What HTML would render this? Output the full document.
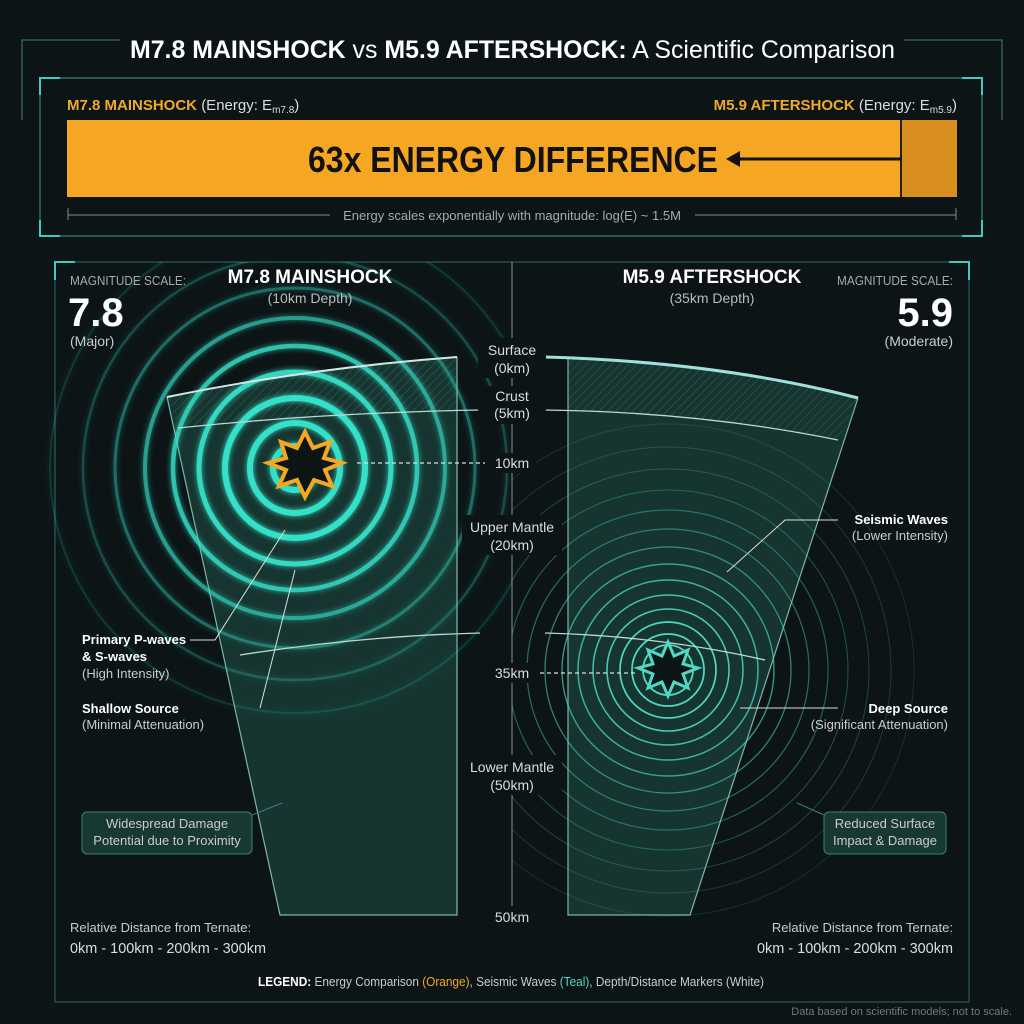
<!DOCTYPE html>
<html><head><meta charset="utf-8"><style>
body{margin:0;background:#0c1416;}
svg{display:block}
text{font-family:"Liberation Sans Narrow","Liberation Sans",sans-serif;}
</style></head><body>
<svg width="1024" height="1024" viewBox="0 0 1024 1024" xmlns="http://www.w3.org/2000/svg">
<defs>
<pattern id="hatch" width="6" height="6" patternUnits="userSpaceOnUse" patternTransform="rotate(45)"><line x1="0" y1="0" x2="0" y2="6" stroke="#5a8a84" stroke-width="1" opacity="0.5"/></pattern>
<filter id="glow"><feGaussianBlur stdDeviation="3" result="b"/><feMerge><feMergeNode in="b"/><feMergeNode in="SourceGraphic"/></feMerge></filter>
<clipPath id="lc"><rect x="40" y="262" width="472" height="738"/></clipPath>
<clipPath id="rc"><rect x="512" y="262" width="472" height="738"/></clipPath>
</defs>
<rect width="1024" height="1024" fill="#0c1416"/>
<g stroke="#2d5c5c" fill="none" stroke-width="1.5">
<path d="M22 120 V40 H120 M904 40 H1002 V120"/>
<rect x="40" y="78" width="942" height="158" stroke="#2f6e6e"/>
<rect x="55" y="262" width="914" height="740" stroke="#254c4c"/>
</g>
<g stroke="#3fc9c0" stroke-width="2" fill="none">
<path d="M40 95 V78 H60 M962 78 H982 V95 M40 220 V236 H60 M962 236 H982 V220"/>
<path d="M55 280 V262 H75 M949 262 H969 V280"/>
</g>
<text x="130" y="58" textLength="765" lengthAdjust="spacingAndGlyphs" fill="#fff" font-size="25"><tspan font-weight="bold">M7.8 MAINSHOCK</tspan> vs <tspan font-weight="bold">M5.9 AFTERSHOCK:</tspan> A Scientific Comparison</text>
<text x="67" y="110" fill="#f0a92a" font-size="15" font-weight="bold">M7.8 MAINSHOCK <tspan fill="#ddd" font-weight="normal">(Energy: E</tspan><tspan fill="#ddd" font-weight="normal" font-size="10" dy="3">m7.8</tspan><tspan fill="#ddd" font-weight="normal" dy="-3">)</tspan></text>
<text x="957" y="110" text-anchor="end" fill="#f0a92a" font-size="15" font-weight="bold">M5.9 AFTERSHOCK <tspan fill="#ddd" font-weight="normal">(Energy: E</tspan><tspan fill="#ddd" font-weight="normal" font-size="10" dy="3">m5.9</tspan><tspan fill="#ddd" font-weight="normal" dy="-3">)</tspan></text>
<rect x="67" y="120" width="890" height="77" fill="#f5a623"/>
<rect x="902" y="120" width="55" height="77" fill="#d98f1f"/>
<line x1="901" y1="120" x2="901" y2="197" stroke="#222" stroke-width="2"/>
<text x="308" y="172" textLength="410" lengthAdjust="spacingAndGlyphs" fill="#111" font-size="36" font-weight="bold">63x ENERGY DIFFERENCE</text>
<line x1="738" y1="159" x2="901" y2="159" stroke="#111" stroke-width="3"/>
<path d="M726 159 L740 151 L740 167 Z" fill="#111"/>
<g stroke="#888" stroke-width="1"><line x1="68" y1="215" x2="330" y2="215"/><line x1="695" y1="215" x2="956" y2="215"/><line x1="68" y1="208" x2="68" y2="220"/><line x1="956" y1="208" x2="956" y2="220"/></g>
<text x="512" y="220" text-anchor="middle" fill="#aaa" font-size="13">Energy scales exponentially with magnitude: log(E) ~ 1.5M</text>

<line x1="512" y1="262" x2="512" y2="915" stroke="#778" stroke-width="1.2"/>

<path d="M167 397 Q310 368 457 357 L457 915 L280 915 Z" fill="#173833" opacity="0.9"/>
<path d="M167 397 Q310 368 457 357 L457 410 Q320 413 178 428 Z" fill="url(#hatch)"/>
<path d="M167 397 L280 915 L457 915 L457 357" fill="none" stroke="#7fb5ad" stroke-width="1.2"/>
<path d="M568 357 Q720 362 858 398 L690 915 L568 915 Z" fill="#173833" opacity="0.9"/>
<path d="M568 357 Q720 362 858 398 L838 440 Q700 412 568 410 Z" fill="url(#hatch)"/>
<path d="M568 357 L568 915 L690 915 L858 398" fill="none" stroke="#7fb5ad" stroke-width="1.2"/>

<g clip-path="url(#lc)" fill="none" stroke="#35e0c8" filter="url(#glow)">
<circle cx="295" cy="468" r="22" stroke-width="6"/>
<circle cx="295" cy="468" r="45" stroke-width="6"/>
<circle cx="295" cy="468" r="70" stroke-width="6"/>
<circle cx="295" cy="468" r="96" stroke-width="5" opacity="0.9"/>
<circle cx="295" cy="468" r="122" stroke-width="4.5" opacity="0.75"/>
<circle cx="295" cy="468" r="150" stroke-width="4" opacity="0.55"/>
<circle cx="295" cy="468" r="180" stroke-width="3" opacity="0.35"/>
<circle cx="295" cy="468" r="212" stroke-width="2.5" opacity="0.22"/>
<circle cx="295" cy="468" r="245" stroke-width="2" opacity="0.14"/>
</g>
<g clip-path="url(#rc)" fill="none" stroke="#4fd8c4">
<circle cx="668" cy="670" r="15" stroke-width="1.8"/>
<circle cx="668" cy="670" r="25" stroke-width="1.8"/>
<circle cx="668" cy="670" r="36" stroke-width="1.8"/>
<circle cx="668" cy="670" r="48" stroke-width="1.7"/>
<circle cx="668" cy="670" r="61" stroke-width="1.6" opacity="0.9"/>
<circle cx="668" cy="670" r="75" stroke-width="1.5" opacity="0.85"/>
<circle cx="668" cy="670" r="90" stroke-width="1.5" opacity="0.75"/>
<circle cx="668" cy="670" r="106" stroke-width="1.4" opacity="0.65"/>
<circle cx="668" cy="670" r="123" stroke-width="1.3" opacity="0.55"/>
<circle cx="668" cy="670" r="141" stroke-width="1.2" opacity="0.45"/>
<circle cx="668" cy="670" r="160" stroke-width="1.2" opacity="0.38"/>
<circle cx="668" cy="670" r="180" stroke-width="1.1" opacity="0.3"/>
<circle cx="668" cy="670" r="201" stroke-width="1" opacity="0.25"/>
<circle cx="668" cy="670" r="223" stroke-width="1" opacity="0.2"/>
<circle cx="668" cy="670" r="246" stroke-width="1" opacity="0.15"/>
</g>
<g fill="none" stroke="#cfe8e4" stroke-width="2">
<path d="M167 397 Q310 368 457 357"/>
<path d="M545 357 Q720 362 858 398" stroke="#9fe0da" stroke-width="3"/>
</g>
<g fill="none" stroke="#bcd8d3" stroke-width="1.3">
<path d="M178 428 Q320 413 480 410"/>
<path d="M545 410 Q700 412 838 440"/>
<path d="M240 655 Q360 636 480 633"/>
<path d="M545 633 Q660 636 765 660"/>
</g>
<path d="M305 432 L313 448 L330 442 L324 458 L342 463 L325 470 L332 486 L314 480 L305 497 L297 480 L279 486 L286 470 L268 463 L286 458 L281 442 L297 448 Z" fill="#0c1416" stroke="#f5a623" stroke-width="4"/>
<path d="M668 642 L674 656 L688 650 L683 664 L698 668 L683 674 L688 688 L674 682 L668 696 L662 682 L648 688 L653 674 L638 668 L653 664 L648 650 L662 656 Z" fill="#0c1416" stroke="#4fd8c4" stroke-width="3"/>
<line x1="357" y1="463" x2="485" y2="463" stroke="#ddd" stroke-width="1.3" stroke-dasharray="4 3"/>
<line x1="540" y1="673" x2="638" y2="673" stroke="#ddd" stroke-width="1.3" stroke-dasharray="4 3"/>

<g fill="#ddd" font-size="14" text-anchor="middle">
<rect x="478" y="338" width="68" height="40" fill="#0c1416"/>
<text x="512" y="355">Surface</text><text x="512" y="373">(0km)</text>
<rect x="478" y="386" width="68" height="38" fill="#0c1416"/>
<text x="512" y="401">Crust</text><text x="512" y="418">(5km)</text>
<rect x="488" y="453" width="48" height="20" fill="#0c1416"/>
<text x="512" y="468">10km</text>
<rect x="462" y="515" width="100" height="40" fill="#0c1416"/>
<text x="512" y="532">Upper Mantle</text><text x="512" y="550">(20km)</text>
<rect x="488" y="663" width="48" height="20" fill="#0c1416"/>
<text x="512" y="678">35km</text>
<rect x="462" y="755" width="100" height="40" fill="#0c1416"/>
<text x="512" y="772">Lower Mantle</text><text x="512" y="790">(50km)</text>
<rect x="488" y="906" width="48" height="20" fill="#0c1416"/>
<text x="512" y="922">50km</text>
</g>

<text x="310" y="283" text-anchor="middle" fill="#fff" font-size="19" font-weight="bold">M7.8 MAINSHOCK</text>
<text x="310" y="303" text-anchor="middle" fill="#bbb" font-size="14">(10km Depth)</text>
<text x="712" y="283" text-anchor="middle" fill="#fff" font-size="19" font-weight="bold">M5.9 AFTERSHOCK</text>
<text x="712" y="303" text-anchor="middle" fill="#bbb" font-size="14">(35km Depth)</text>
<text x="70" y="285" textLength="116" lengthAdjust="spacingAndGlyphs" fill="#aaa" font-size="13">MAGNITUDE SCALE:</text>
<text x="68" y="326" fill="#fff" font-size="40" font-weight="bold">7.8</text>
<text x="70" y="346" fill="#ccc" font-size="14">(Major)</text>
<text x="837" y="285" textLength="116" lengthAdjust="spacingAndGlyphs" fill="#aaa" font-size="13">MAGNITUDE SCALE:</text>
<text x="953" y="326" text-anchor="end" fill="#fff" font-size="40" font-weight="bold">5.9</text>
<text x="953" y="346" text-anchor="end" fill="#ccc" font-size="14">(Moderate)</text>

<g stroke="#ddd" stroke-width="1" fill="none">
<path d="M190 640 H215 L285 530"/>
<path d="M260 708 L295 570"/>
<path d="M838 520 H785 L727 572"/>
<path d="M838 708 H740"/>
</g>
<g font-size="13" fill="#ccc">
<text x="82" y="644" fill="#fff" font-weight="bold">Primary P-waves</text>
<text x="82" y="661" fill="#fff" font-weight="bold">&amp; S-waves</text>
<text x="82" y="678">(High Intensity)</text>
<text x="82" y="713" fill="#fff" font-weight="bold">Shallow Source</text>
<text x="82" y="729">(Minimal Attenuation)</text>
<text x="948" y="524" text-anchor="end" fill="#fff" font-weight="bold">Seismic Waves</text>
<text x="948" y="540" text-anchor="end">(Lower Intensity)</text>
<text x="948" y="713" text-anchor="end" fill="#fff" font-weight="bold">Deep Source</text>
<text x="948" y="729" text-anchor="end">(Significant Attenuation)</text>
</g>
<rect x="82" y="812" width="170" height="42" rx="5" fill="#173833" stroke="#3d7f77"/>
<path d="M252 815 L282 803" stroke="#3d7f77"/>
<text x="167" y="828" text-anchor="middle" fill="#ccc" font-size="13">Widespread Damage</text>
<text x="167" y="845" text-anchor="middle" fill="#ccc" font-size="13">Potential due to Proximity</text>
<rect x="824" y="812" width="122" height="42" rx="5" fill="#173833" stroke="#3d7f77"/>
<path d="M824 815 L797 803" stroke="#3d7f77"/>
<text x="885" y="828" text-anchor="middle" fill="#ccc" font-size="13">Reduced Surface</text>
<text x="885" y="845" text-anchor="middle" fill="#ccc" font-size="13">Impact &amp; Damage</text>

<text x="70" y="932" fill="#ccc" font-size="13">Relative Distance from Ternate:</text>
<text x="70" y="953" textLength="196" lengthAdjust="spacingAndGlyphs" fill="#ddd" font-size="15">0km - 100km - 200km - 300km</text>
<text x="953" y="932" text-anchor="end" fill="#ccc" font-size="13">Relative Distance from Ternate:</text>
<text x="757" y="953" textLength="196" lengthAdjust="spacingAndGlyphs" fill="#ddd" font-size="15">0km - 100km - 200km - 300km</text>
<text x="258" y="986" textLength="506" lengthAdjust="spacingAndGlyphs" fill="#ccc" font-size="13"><tspan font-weight="bold" fill="#fff">LEGEND:</tspan> Energy Comparison <tspan fill="#f0a92a">(Orange)</tspan>, Seismic Waves <tspan fill="#4fd8c4">(Teal)</tspan>, Depth/Distance Markers (White)</text>
<text x="1012" y="1015" text-anchor="end" fill="#777" font-size="11">Data based on scientific models; not to scale.</text>
</svg>
</body></html>
